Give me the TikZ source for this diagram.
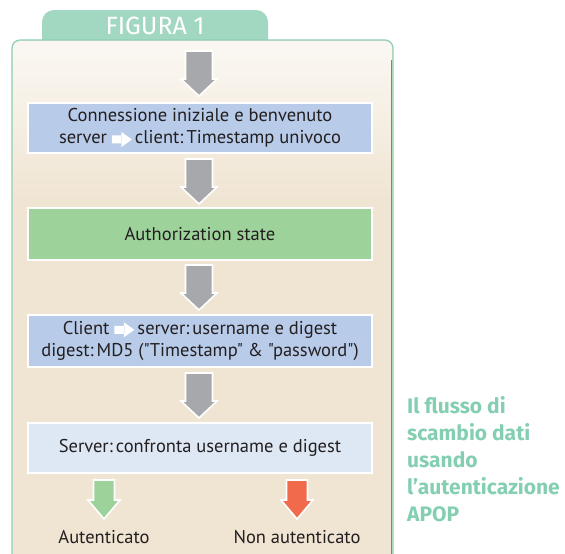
\documentclass[tikz,border=0pt]{standalone}
\usepackage{fontspec}
\setmainfont{PT Sans}[Ligatures=TeXOff]
\newfontfamily\sidefont{Fira Sans}
\definecolor{tabgreen}{HTML}{A2D8C1}
\definecolor{bordgreen}{HTML}{8ED0B5}
\definecolor{sidegreen}{HTML}{84CFB2}
\definecolor{boxblue}{HTML}{B8CBE9}
\definecolor{boxlight}{HTML}{DEE8F5}
\definecolor{boxgreen}{HTML}{9DD39B}
\definecolor{arrgray}{HTML}{A6A8AB}
\definecolor{arrred}{HTML}{F26A4C}
\definecolor{beige}{HTML}{F0E5D3}
\definecolor{txt}{HTML}{231F20}
\newcommand\warr{\tikz[baseline=0pt,x=1pt,y=1pt]\fill[white] (0,0.5) rectangle (10,8.5) (9.5,-3) -- (20,4.5) -- (9.5,12) -- cycle;}
\tikzset{
  stepbox/.style={draw=white, line width=2pt, minimum width=344pt, minimum height=50pt,
    inner sep=0pt, align=center, font=\fontsize{18.5}{22.5}\selectfont, text=txt},
  bigarr/.pic={\draw[white,line width=1.6pt,fill=#1,line join=miter]
    (0,0) -- (-18,-17) -- (-13.5,-17) -- (-13.5,-45) -- (13.5,-45) -- (13.5,-17) -- (18,-17) -- cycle;},
  smallarr/.pic={\draw[white,line width=1.6pt,fill=#1,line join=miter]
    (0,0) -- (-16,-19) -- (-10.5,-19) -- (-10.5,-39) -- (10.5,-39) -- (10.5,-19) -- (16,-19) -- cycle;},
  lbl/.style={font=\fontsize{18.5}{20}\selectfont, text=txt, inner sep=0pt},
}
\begin{document}
\begin{tikzpicture}[x=1pt,y=-1pt]
\useasboundingbox (0,0) rectangle (565,554);
\fill[white] (0,0) rectangle (565,554);
% tab
\fill[tabgreen] (42,41) -- (42,22) arc[start angle=180,end angle=270,radius=12] -- (256,10) arc[start angle=270,end angle=360,radius=12] -- (268,41) -- cycle;
\node[text=white, font=\sidefont\fontsize{25}{25}\selectfont, inner sep=0pt] (title) at (155,26) {FIGURA 1};
% panel
\fill[beige]
  (12,560) -- (12,48) arc[start angle=180,end angle=270,radius=8] -- (385,40) arc[start angle=270,end angle=360,radius=8] -- (393,560) -- cycle;
\shade[top color=white!70!beige, bottom color=beige] (13,46) rectangle (392,200);
\fill[white!70!beige] (13,41.5) -- (13,48) arc[start angle=180,end angle=270,radius=7] -- (385,41) arc[start angle=270,end angle=360,radius=7] -- (392,48) -- (392,47) -- (13,47);
\draw[bordgreen, line width=1.2pt]
  (12,560) -- (12,48) arc[start angle=180,end angle=270,radius=8] -- (385,40) arc[start angle=270,end angle=360,radius=8] -- (393,560);
\draw[gray!80!brown, line width=0.8pt] (391.6,60) -- (391.6,560);
% boxes
\node[stepbox, fill=boxblue] (b1) at (200,128) {Connessione iniziale e benvenuto\\server \warr\,client:\,Timestamp univoco};
\node[stepbox, fill=boxgreen, minimum height=52pt] (b2) at (200,234) {Authorization state};
\node[stepbox, fill=boxblue, minimum height=52pt] (b3) at (200,341) {Client \warr\,server:\,username e digest\\digest:\,MD5 ("Timestamp" \& "password")};
\node[stepbox, fill=boxlight] (b4) at (200,448) {Server:\,confronta username e digest};
% arrows
\pic at (199,96) {bigarr=arrgray};
\pic at (199,204) {bigarr=arrgray};
\pic at (199,310) {bigarr=arrgray};
\pic at (199,418) {bigarr=arrgray};
\pic at (104,519) {smallarr=boxgreen};
\pic at (297,519) {smallarr=arrred};
% labels
\node[lbl] (ok) at (104,537) {Autenticato};
\node[lbl] (ko) at (297,537) {Non autenticato};
% side text
\node[anchor=north west, align=left, text=sidegreen, inner sep=0pt,
  font=\sidefont\bfseries\fontsize{21}{27}\selectfont] (side) at (407,396)
  {Il flusso di\\scambio dati\\usando\\l’autenticazione\\APOP};
\end{tikzpicture}
\end{document}
